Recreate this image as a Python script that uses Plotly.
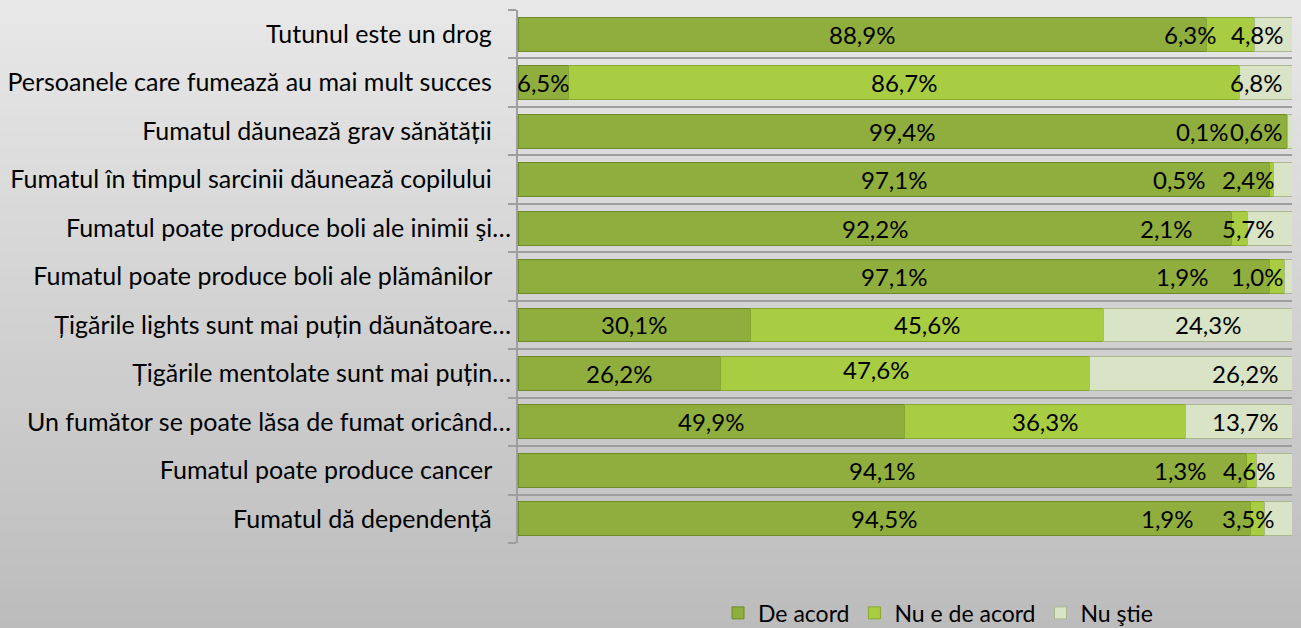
import plotly.graph_objects as go

# ---- data (top to bottom) ----
categories = [
    "Tutunul este un drog",
    "Persoanele care fumează au mai mult succes",
    "Fumatul dăunează grav sănătății",
    "Fumatul în timpul sarcinii dăunează copilului",
    "Fumatul poate produce boli ale inimii şi…",
    "Fumatul poate produce boli ale plămânilor",
    "Țigările lights sunt mai puțin dăunătoare…",
    "Țigările mentolate sunt mai puțin…",
    "Un fumător se poate lăsa de fumat oricând…",
    "Fumatul poate produce cancer",
    "Fumatul dă dependență",
]
de_acord = [88.9, 6.5, 99.4, 97.1, 92.2, 97.1, 30.1, 26.2, 49.9, 94.1, 94.5]
nu_e_de_acord = [6.3, 86.7, 0.1, 0.5, 2.1, 1.9, 45.6, 47.6, 36.3, 1.3, 1.9]
nu_stie = [4.8, 6.8, 0.6, 2.4, 5.7, 1.0, 24.3, 26.2, 13.7, 4.6, 3.5]
series_names = ["De acord", "Nu e de acord", "Nu ştie"]

# ---- style ----
colors = ["#8fae3d", "#a8cd42", "#d9e4c6"]
line_colors = ["#6e8a28", "#86a830", "#aab890"]
FONT = "Lato"
FS = 25
W, H = 1301, 628
plot_left, plot_right, plot_top, plot_bottom = 518, 1292, 10, 543

# label pixel nudges (style only) per row: [de acord, nu e de acord, nu stie]
label_xshift = [[0, -40, -16], [0, 0, -9], [0, -84, -33], [0, -92, -34], [0, -73, -21],
                [0, -94, -31], [0, 0, 10], [0, -29, 54], [0, 0, 6], [0, -71, -25], [0, -90, -30]]
label_yshift = [[0, 0, 0]] * 7 + [[0, 4, 0]] + [[0, 0, 0]] * 3

# tick labels: trailing spaces for non-truncated labels
tick_text = [c if c.endswith("…") else c + "\u00a0\u00a0\u00a0" for c in categories]

series = [de_acord, nu_e_de_acord, nu_stie]

fig = go.Figure()
for name, vals, col, lc in zip(series_names, series, colors, line_colors):
    fig.add_trace(go.Bar(
        y=categories, x=vals, name=name, orientation="h",
        marker=dict(color=col, line=dict(color=lc, width=1)),
        hoverinfo="x+name",
    ))

# data labels placed at segment centres (computed from the normalised data)
annotations = []
for r, cat in enumerate(categories):
    vals = [s[r] for s in series]
    total = sum(vals)
    start = 0.0
    for k, v in enumerate(vals):
        center = (start + v / 2) / total * 100
        start += v
        annotations.append(dict(
            x=center, y=cat, xref="x", yref="y",
            text=f"{v:.1f}%".replace(".", ","), showarrow=False,
            font=dict(family=FONT, size=24, color="#000000"),
            xshift=label_xshift[r][k], yshift=label_yshift[r][k],
        ))

# background vertical gradient
shapes = []
N = 80
top_rgb = (0xe8, 0xe8, 0xe8)
bot_rgb = (0xbc, 0xbc, 0xbc)
for i in range(N):
    t = (i + 0.5) / N
    c = tuple(round(b + (a - b) * t) for a, b in zip(top_rgb, bot_rgb))
    y0 = i / N if i > 0 else -0.05
    y1 = (i + 1) / N + 0.002 if i < N - 1 else 1.05
    shapes.append(dict(type="rect", xref="paper", yref="paper",
                       x0=-0.02, x1=1.02, y0=y0, y1=y1,
                       fillcolor="rgb(%d,%d,%d)" % c, line=dict(width=0), layer="below"))

fig.update_layout(
    width=W, height=H, autosize=False,
    margin=dict(l=0, r=0, t=0, b=0, autoexpand=False),
    paper_bgcolor="#bdbdbd", plot_bgcolor="rgba(0,0,0,0)",
    barmode="stack", barnorm="percent", bargap=0.3,
    font=dict(family=FONT, size=FS, color="#000000"),
    shapes=shapes, annotations=annotations,
    legend=dict(orientation="h", x=0.721, xanchor="center", y=0.024, yanchor="middle",
                font=dict(family=FONT, size=23), bgcolor="rgba(0,0,0,0)",
                traceorder="normal", itemwidth=30, tracegroupgap=0),
    showlegend=True,
    xaxis=dict(domain=[plot_left / W, plot_right / W], range=[0, 100], visible=False,
               fixedrange=True),
    yaxis=dict(domain=[1 - plot_bottom / H, 1 - plot_top / H], type="category",
               autorange="reversed", tickson="boundaries",
               tickmode="array", tickvals=categories, ticktext=tick_text,
               showgrid=True, gridcolor="#9e9e9e", gridwidth=2,
               showline=True, linecolor="#9e9e9e", linewidth=2,
               ticks="outside", ticklen=8, tickcolor="#9e9e9e", tickwidth=2,
               tickfont=dict(family=FONT, size=FS, color="#000000"),
               fixedrange=True),
)

fig.write_html("out.html", config={"displayModeBar": False},
               post_script="document.body.style.margin='0';document.body.style.overflow='hidden';")
